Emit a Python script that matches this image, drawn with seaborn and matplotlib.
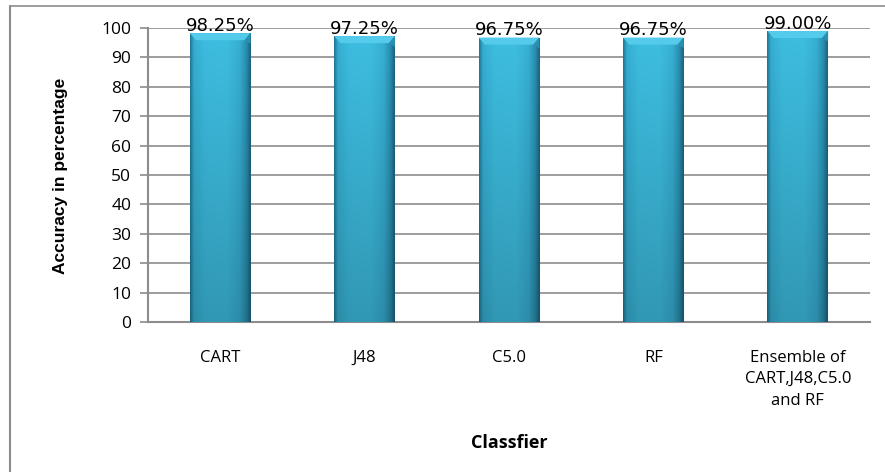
import numpy as np
import pandas as pd
import matplotlib
matplotlib.use("Agg")
import matplotlib.pyplot as plt
from matplotlib.colors import LinearSegmentedColormap
import seaborn as sns

classifiers = ["CART", "J48", "C5.0", "RF", "Ensemble of\nCART,J48,C5.0\nand RF"]
accuracy = [98.25, 97.25, 96.75, 96.75, 99.00]
yticks = list(range(0, 101, 10))

df = pd.DataFrame({"Classifier": classifiers, "Accuracy": accuracy})

sns.set_theme(style="white")
plt.rcParams["font.family"] = ["Open Sans", "DejaVu Sans"]
plt.rcParams["text.color"] = "#000000"

W, H = 885, 472
fig = plt.figure(figsize=(W / 100, H / 100), dpi=100)
ax = fig.add_axes([148 / W, 1 - 322 / H, (870 - 148) / W, (322 - 28) / H])

sns.barplot(data=df, x="Classifier", y="Accuracy", color="#38b4d8",
            width=0.42, ax=ax, zorder=2, edgecolor="none")

ax.set_ylim(0, 100)
ax.set_xlim(-0.5, len(classifiers) - 0.5)
ax.set_yticks(yticks)
ax.yaxis.grid(True, color="#8c8c8c", linewidth=1.2, zorder=0)
ax.set_axisbelow(True)
for side in ["top", "right"]:
    ax.spines[side].set_visible(False)
for side in ["left", "bottom"]:
    ax.spines[side].set_color("#8c8c8c")
    ax.spines[side].set_linewidth(1.5)
ax.tick_params(axis="y", which="major", left=True, length=6, width=1.2,
               color="#8c8c8c", labelsize=12.5, pad=6, labelcolor="#000000")
ax.tick_params(axis="x", bottom=False, labelsize=12, pad=14, labelcolor="#000000")
for lbl in ax.get_xticklabels():
    lbl.set_linespacing(1.45)
ax.set_xlabel("")
ax.set_ylabel("")

# cylinder-style shading on each bar: thin dark rim, light body, darker right side
horiz = LinearSegmentedColormap.from_list(
    "cyl", [(0.0, "#1f7a98"), (0.06, "#35aed2"), (0.25, "#3dbde0"),
            (0.6, "#3ebee1"), (0.82, "#36afd3"), (0.93, "#2a8fb0"),
            (1.0, "#1a6580")])
for patch in ax.patches:
    x0, y0 = patch.get_x(), patch.get_y()
    w, h = patch.get_width(), patch.get_height()
    nx, ny = 96, 200
    xs = np.linspace(0, 1, nx)
    ys = np.linspace(0, 1, ny)[:, None]
    base = horiz(xs)[None, :, :3].repeat(ny, axis=0)
    # vertical darkening toward the bottom
    shade = 0.80 + 0.20 * ys
    img = base * shade[..., None]
    im = ax.imshow(np.clip(img, 0, 1), extent=[x0, x0 + w, y0, y0 + h],
                   origin="lower", aspect="auto", zorder=3, interpolation="bilinear")
    im.set_clip_path(patch)
    # bevelled top cap
    cap_h = 2.4
    ax.fill([x0, x0 + w, x0 + w * 0.9, x0 + w * 0.1],
            [y0 + h, y0 + h, y0 + h - cap_h, y0 + h - cap_h],
            color="#55cbeb", zorder=4, linewidth=0)
    ax.fill([x0 + w * 0.9, x0 + w, x0 + w],
            [y0 + h - cap_h, y0 + h, y0 + h - cap_h * 1.5],
            color="#2a8fb0", zorder=4, linewidth=0)

for i, v in enumerate(accuracy):
    ax.text(i, v - 0.6, f"{v:.2f}%", ha="center", va="bottom",
            fontsize=13, family="DejaVu Sans", color="#000000", zorder=5)

fig.text(61 / W, 1 - 176 / H, "Accuracy in percentage", rotation=90,
         ha="center", va="center", fontsize=12.5, fontweight="bold",
         color="#000000", fontstretch="condensed",
         family=["Liberation Sans Narrow", "Liberation Sans", "DejaVu Sans"])
fig.text(509 / W, 1 - 443 / H, "Classfier", ha="center", va="center",
         fontsize=13, fontweight="bold", color="#000000")

# outer chart frame
frame_color = "#8c8c8c"
fig.add_artist(plt.Line2D([10 / W, 10 / W], [0, 1 - 6 / H], color=frame_color,
                          linewidth=1.5, transform=fig.transFigure))
fig.add_artist(plt.Line2D([10 / W, 1], [1 - 6 / H, 1 - 6 / H], color=frame_color,
                          linewidth=1.2, transform=fig.transFigure))

fig.savefig("out.png", dpi=100)
